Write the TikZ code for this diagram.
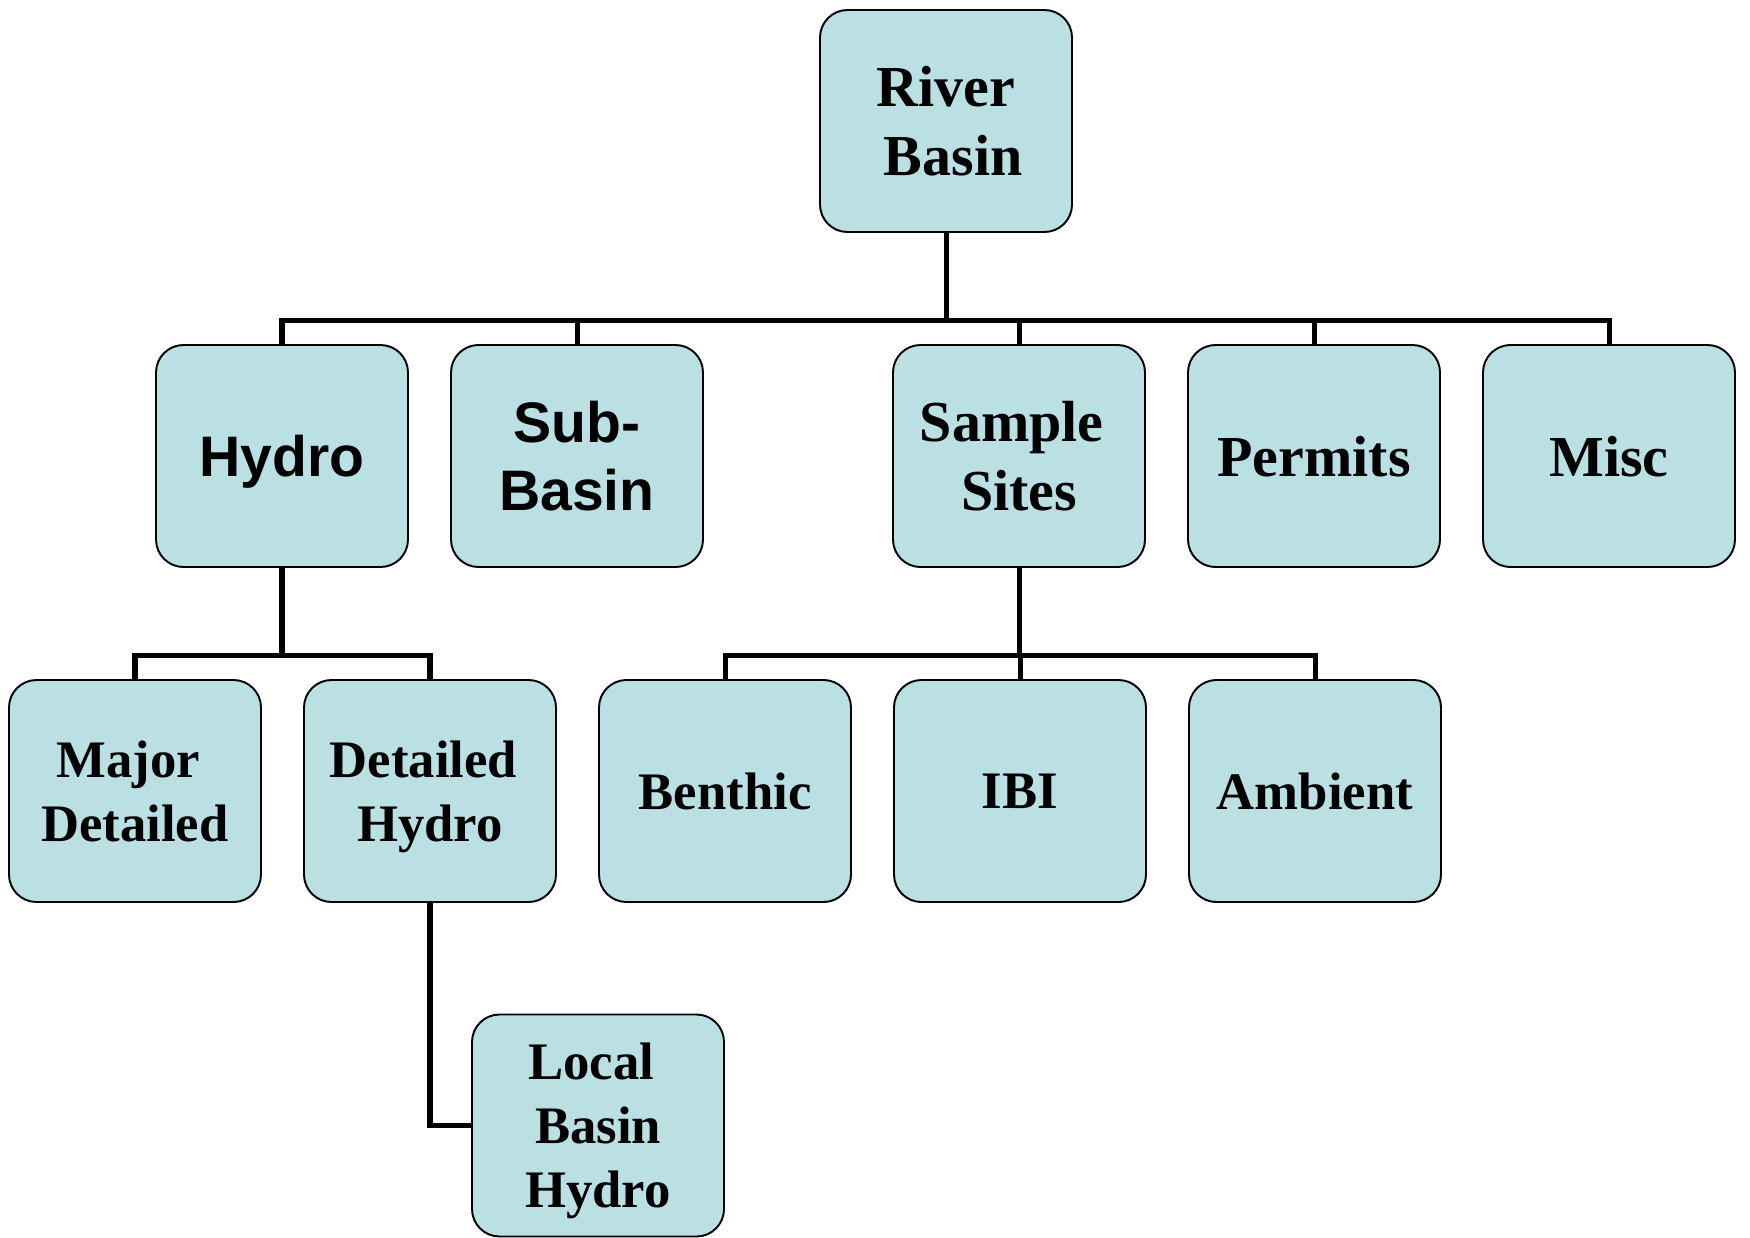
\documentclass[tikz,border=0pt]{standalone}
\usepackage{fontspec}
\setmainfont{Liberation Serif}
\setsansfont{Liberation Sans}
\usetikzlibrary{positioning}
\definecolor{boxfill}{RGB}{187,224,227}

\begin{document}
\begin{tikzpicture}[node distance=5.9cm,on grid,
		box/.style={draw,line width=1.1pt,fill=boxfill,rounded corners=0.55cm,
			minimum width=5.04cm,minimum height=4.44cm,align=center,inner sep=0pt,
			text depth=-0.1cm},
		upper/.style={box,font=\fontsize{33}{39}\selectfont\bfseries},
		lower/.style={box,font=\fontsize{30}{36.5}\selectfont\bfseries},
		sans/.style={box,font=\fontsize{32.5}{39}\selectfont\sffamily\bfseries},
		link/.style={line width=2.85pt}]
		
		\useasboundingbox (0,0) rectangle (35,-24.76);
		
		\node (river) [upper] at (18.92,-2.42) {River\\\kern.25em Basin};
		
		\node (hydro) [sans] at (5.64,-9.12) {Hydro};
		\node (sub) [sans, right=of hydro] {Sub-\\Basin};
		\node (sample) [upper, right=8.84cm of sub] {Sample\kern.25em\\Sites};
		\node (permits) [upper, right=of sample] {Permits};
		\node (misc) [upper, right=of permits] {Misc};
		
		\node (major) [lower] at (2.7,-15.82) {Major\kern.25em\\Detailed};
		\node (dhydro) [lower, right=of major] {Detailed\kern.25em\\Hydro};
		\node (benthic) [lower, right=of dhydro] {Benthic};
		\node (ibi) [lower, right=of benthic] {IBI};
		\node (ambient) [lower, right=of ibi] {Ambient};
		
		\node (local) [lower] at (11.96,-22.51) {Local\kern.25em\\Basin\\Hydro};
		
		\foreach \kid in {hydro,sub,sample,permits,misc}
		\draw [link] (river.south) -- ++(0,-1.76) -| (\kid.north);
		
		\foreach \kid in {major,dhydro}
		\draw [link] (hydro.south) -- ++(0,-1.76) -| (\kid.north);
		
		\foreach \kid in {benthic,ibi,ambient}
		\draw [link] (sample.south) -- ++(0,-1.76) -| (\kid.north);
		
		\draw [link] (dhydro.south) |- (local.west);
		
	\end{tikzpicture}
\end{document}
